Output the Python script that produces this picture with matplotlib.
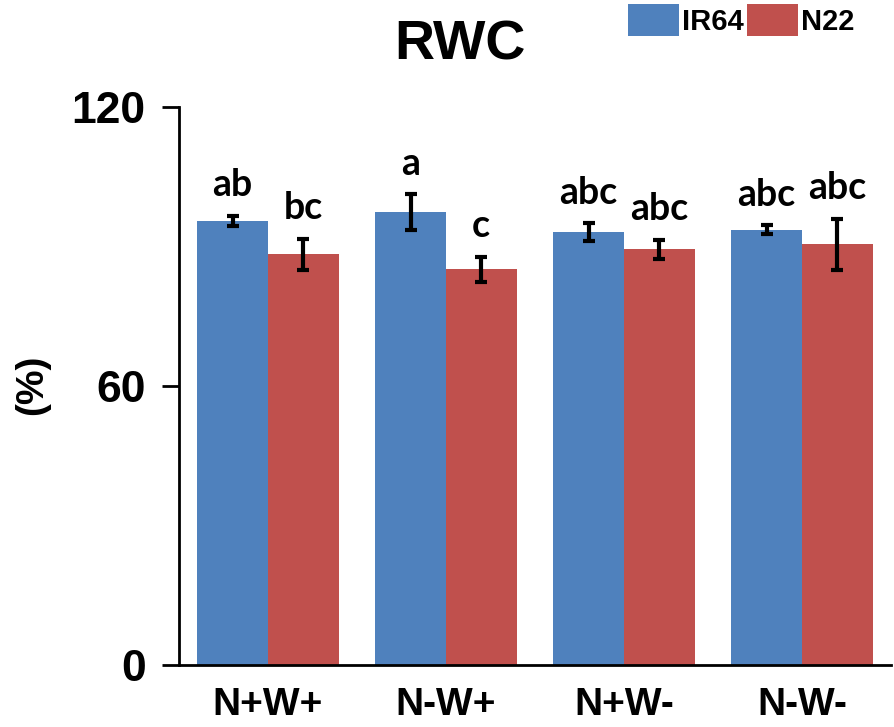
import numpy as np
import matplotlib
matplotlib.use("Agg")
from matplotlib import pyplot as plt
from matplotlib.patches import Patch

groups = ["N+W+", "N-W+", "N+W-", "N-W-"]
ir64 = [95.5, 97.4, 93.1, 93.6]
ir64_err = [1.1, 3.8, 1.9, 1.0]
n22 = [88.3, 85.1, 89.4, 90.5]
n22_err = [3.4, 2.75, 2.0, 5.5]
ir64_letters = ["ab", "a", "abc", "abc"]
n22_letters = ["bc", "c", "abc", "abc"]

blue = "#4F81BD"
red = "#C0504D"

fig = plt.figure(figsize=(8.94, 7.27), dpi=100)
ax = fig.add_axes([0.2002, 0.0853, 0.7964, 0.7675])

x = np.arange(len(groups))
w = 0.397
ekw = dict(elinewidth=3, capthick=3, capsize=4, ecolor="black")
ax.bar(x - w/2, ir64, w, color=blue, yerr=ir64_err, error_kw=ekw)
ax.bar(x + w/2, n22, w, color=red, yerr=n22_err, error_kw=ekw)

# significance letters
for i in range(len(groups)):
    ax.text(x[i] - w/2, ir64[i] + ir64_err[i] + 4.2, ir64_letters[i], ha="center", va="baseline",
            fontsize=27, fontweight="bold", family="Lato")
    ax.text(x[i] + w/2, n22[i] + n22_err[i] + 4.2, n22_letters[i], ha="center", va="baseline",
            fontsize=27, fontweight="bold", family="Lato")

ax.set_xlim(-0.5, 3.5)
ax.set_ylim(0, 120)
ax.set_yticks([0, 60, 120])
ax.set_yticklabels(["0", "60", "120"], fontsize=32, fontweight="bold", family="Liberation Sans")
ax.set_xticks(x)
ax.set_xticklabels(groups, fontsize=28, fontweight="bold", family="Liberation Sans")
ax.tick_params(axis="x", length=0, pad=16)
ax.tick_params(axis="y", direction="out", length=12, width=2, pad=12)

for s in ["top", "right"]:
    ax.spines[s].set_visible(False)
ax.spines["left"].set_linewidth(2)
ax.spines["bottom"].set_linewidth(2)

fig.text(0.036, 0.47, "(%)", rotation=90, ha="center", va="center", fontsize=28,
         fontweight="bold", family="Liberation Sans")

fig.text(0.514, 0.937, "RWC", ha="center", va="center", fontsize=40, fontweight="bold",
         family="Liberation Sans")

handles = [Patch(facecolor=blue), Patch(facecolor=red)]
fig.legend(handles, ["IR64", "N22"], loc="upper right", bbox_to_anchor=(0.985, 1.03), ncol=2,
           frameon=False, handlelength=1.75, handleheight=1.3, handletextpad=0.1,
           columnspacing=0.1, prop={"family": "Liberation Sans", "weight": "bold", "size": 21})

fig.savefig("out.png", dpi=100)
